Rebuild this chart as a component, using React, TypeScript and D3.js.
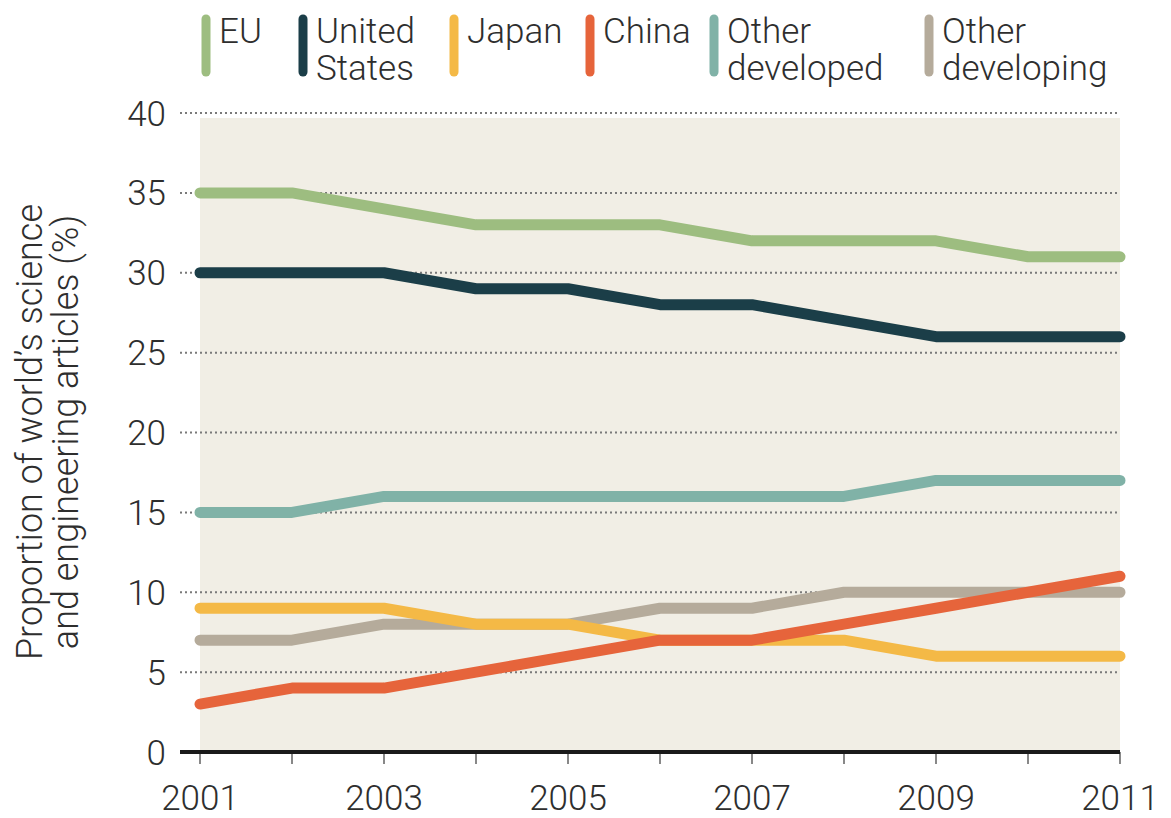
import * as d3 from 'd3'

const years = [2001, 2002, 2003, 2004, 2005, 2006, 2007, 2008, 2009, 2010, 2011]
const eu = [35, 35, 34, 33, 33, 33, 32, 32, 32, 31, 31]
const unitedStates = [30, 30, 30, 29, 29, 28, 28, 27, 26, 26, 26]
const otherDeveloped = [15, 15, 16, 16, 16, 16, 16, 16, 17, 17, 17]
const otherDeveloping = [7, 7, 8, 8, 8, 9, 9, 10, 10, 10, 10]
const japan = [9, 9, 9, 8, 8, 7, 7, 7, 6, 6, 6]
const china = [3, 4, 4, 5, 6, 7, 7, 8, 9, 10, 11]

const yTicks = [0, 5, 10, 15, 20, 25, 30, 35, 40]
const xTickLabels = [2001, 2003, 2005, 2007, 2009, 2011]

// drawing order: last is on top
const series = [
  { name: 'EU', values: eu, color: '#9dbd80' },
  { name: 'United States', values: unitedStates, color: '#1b3e48' },
  { name: 'Other developed', values: otherDeveloped, color: '#80b2a7' },
  { name: 'Other developing', values: otherDeveloping, color: '#b5ab9b' },
  { name: 'Japan', values: japan, color: '#f4b946' },
  { name: 'China', values: china, color: '#e6643b' },
]

// legend order as shown
const legend = [
  { lines: ['EU'], color: '#9dbd80', x: 206 },
  { lines: ['United', 'States'], color: '#1b3e48', x: 303 },
  { lines: ['Japan'], color: '#f4b946', x: 454 },
  { lines: ['China'], color: '#e6643b', x: 590 },
  { lines: ['Other', 'developed'], color: '#80b2a7', x: 714 },
  { lines: ['Other', 'developing'], color: '#b5ab9b', x: 929 },
]

const W = 1171
const H = 818
const font = 'Roboto, "Open Sans", sans-serif'
const textColor = '#2e2e2e'

export default function App() {
  const x = d3.scaleLinear().domain([2001, 2011]).range([200, 1120])
  const y = d3.scaleLinear().domain([0, 40]).range([752, 113])

  const line = d3.line<number>()
    .x((_, i) => x(years[i]))
    .y(d => y(d))

  return (
    <svg width={W} height={H} style={{ position: 'absolute', left: 0, top: 0, background: '#fff' }}>
      {/* plot background */}
      <rect x={x(2001)} y={y(40) + 5} width={x(2011) - x(2001)} height={y(0) - y(40) - 5} fill="#f1eee5" />

      {/* grid */}
      {yTicks.filter(t => t > 0).map(t => (
        <line key={t} x1={180} x2={x(2011)} y1={y(t)} y2={y(t)}
          stroke="#7a7a7a" strokeWidth={2} strokeDasharray="2,3" />
      ))}

      {/* y tick labels */}
      {yTicks.map(t => (
        <text key={t} x={166} y={y(t)} dy="0.36em" textAnchor="end"
          fontFamily={font} fontWeight={300} fontSize={35} fill={textColor}>{t}</text>
      ))}

      {/* x ticks */}
      {years.map(yr => (
        <line key={yr} x1={x(yr)} x2={x(yr)} y1={y(0)} y2={y(0) + 12} stroke="#888" strokeWidth={2} />
      ))}
      <line x1={180} x2={x(2011)} y1={y(0)} y2={y(0)} stroke="#1a1a1a" strokeWidth={4} />
      {xTickLabels.map(yr => (
        <text key={yr} x={x(yr)} y={810} textAnchor="middle"
          fontFamily={font} fontWeight={300} fontSize={35} fill={textColor}>{yr}</text>
      ))}

      {/* y axis title */}
      <g transform="translate(0,432) rotate(-90)" fontFamily={font} fontWeight={300} fontSize={36} fill={textColor} textAnchor="middle">
        <text x={0} y={42}>Proportion of world’s science</text>
        <text x={0} y={78}>and engineering articles (%)</text>
      </g>

      {/* series lines */}
      {series.map(s => (
        <path key={s.name} d={line(s.values) || ''} fill="none" stroke={s.color}
          strokeWidth={11} strokeLinejoin="round" strokeLinecap="round" />
      ))}

      {/* legend */}
      {legend.map(l => (
        <g key={l.lines.join(' ')}>
          <line x1={l.x} x2={l.x} y1={19} y2={72} stroke={l.color} strokeWidth={9} strokeLinecap="round" />
          {l.lines.map((t, i) => (
            <text key={t} x={l.x + 13} y={43 + i * 37} fontFamily={font} fontWeight={300} fontSize={35} fill={textColor}>{t}</text>
          ))}
        </g>
      ))}
    </svg>
  )
}
